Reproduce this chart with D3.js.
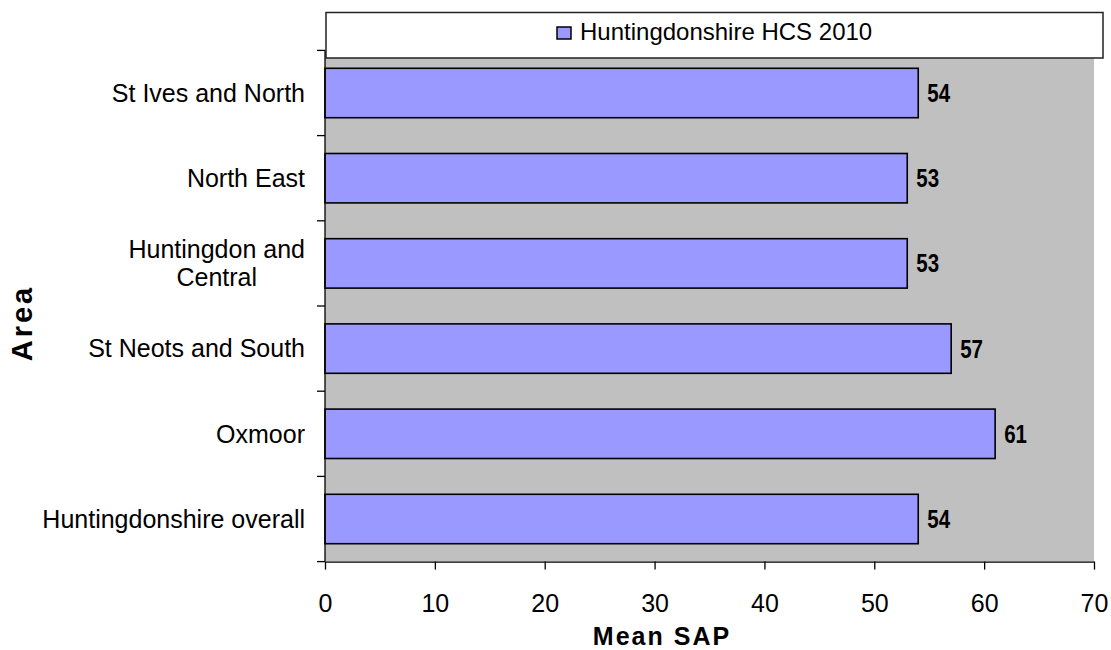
<!DOCTYPE html>
<html>
<head>
<meta charset="utf-8">
<script src="https://cdn.jsdelivr.net/npm/d3@7/dist/d3.min.js"></script>
<style>
  html, body { margin: 0; padding: 0; background: #ffffff; }
  svg { display: block; font-family: "Liberation Sans", Arial, Helvetica, sans-serif; }
</style>
</head>
<body>
<svg id="chart" width="1111" height="650"></svg>
<script>
// Mean SAP rating by area, Huntingdonshire House Condition Survey 2010
const areas = [
  "St Ives and North",
  "North East",
  "Huntingdon and|Central",
  "St Neots and South",
  "Oxmoor",
  "Huntingdonshire overall"
];
const meanSap = [54, 53, 53, 57, 61, 54];
const xTicks = [0, 10, 20, 30, 40, 50, 60, 70];
const seriesName = "Huntingdonshire HCS 2010";
const xTitle = "Mean SAP";
const yTitle = "Area";

const svg = d3.select("#chart");

const plot = { left: 325, right: 1094, top: 50.4, bottom: 561.6 };

const x = d3.scaleLinear().domain([0, 70]).range([plot.left, plot.right]);
const y = d3.scaleBand()
  .domain(areas)
  .range([plot.top, plot.bottom])
  .paddingInner(0.42)
  .paddingOuter(0.21);

// plot background
svg.append("rect")
  .attr("x", plot.left).attr("y", plot.top)
  .attr("width", plot.right - plot.left).attr("height", plot.bottom - plot.top)
  .attr("fill", "#c0c0c0");

// bars
svg.append("g").selectAll("rect")
  .data(areas)
  .join("rect")
  .attr("x", x(0))
  .attr("y", d => y(d))
  .attr("width", (d, i) => x(meanSap[i]) - x(0))
  .attr("height", y.bandwidth())
  .attr("fill", "#9999ff")
  .attr("stroke", "#000")
  .attr("stroke-width", 1.6);

// value labels
svg.append("g").selectAll("text")
  .data(areas)
  .join("text")
  .attr("transform", (d, i) =>
    `translate(${x(meanSap[i]) + 9},${y(d) + y.bandwidth() / 2 + 9}) scale(0.82,1)`)
  .attr("font-size", 25)
  .attr("font-weight", "bold")
  .attr("fill", "#000")
  .text((d, i) => meanSap[i]);

// x axis
const xAxis = svg.append("g")
  .attr("transform", `translate(0,${plot.bottom})`)
  .call(d3.axisBottom(x).tickValues(xTicks).tickSize(8).tickSizeOuter(0));
xAxis.select(".domain").attr("stroke", "#000").attr("stroke-width", 1.3);
xAxis.selectAll(".tick line").attr("stroke", "#000").attr("stroke-width", 1.3);
xAxis.selectAll(".tick text")
  .attr("y", 50).attr("dy", 0)
  .attr("font-size", 25)
  .attr("font-family", "Liberation Sans, Arial, sans-serif")
  .attr("fill", "#000");

// y axis line and boundary ticks
svg.append("line")
  .attr("x1", plot.left).attr("x2", plot.left)
  .attr("y1", plot.top).attr("y2", plot.bottom)
  .attr("stroke", "#000").attr("stroke-width", 1.3);
const step = y.step();
const bounds = d3.range(areas.length + 1).map(i => plot.top + i * step);
svg.append("g").selectAll("line")
  .data(bounds)
  .join("line")
  .attr("x1", plot.left - 8).attr("x2", plot.left)
  .attr("y1", d => d).attr("y2", d => d)
  .attr("stroke", "#000").attr("stroke-width", 1.3);

// category labels (multi-line labels are centred as a block, right-aligned to the axis)
const catG = svg.append("g");
const labelRight = plot.left - 20;
const lineH = 28;
areas.forEach(a => {
  const lines = a.split("|");
  const cy = y(a) + y.bandwidth() / 2;
  const t = catG.append("text")
    .attr("font-size", 25)
    .attr("fill", "#000");
  lines.forEach((ln, j) => {
    t.append("tspan")
      .attr("y", cy + (j - (lines.length - 1) / 2) * lineH + 8.75)
      .text(ln);
  });
  const widths = [];
  t.selectAll("tspan").each(function () { widths.push(this.getComputedTextLength()); });
  const maxW = d3.max(widths);
  if (lines.length === 1) {
    t.attr("text-anchor", "end").selectAll("tspan").attr("x", labelRight);
  } else {
    t.attr("text-anchor", "middle").selectAll("tspan").attr("x", labelRight - maxW / 2);
  }
});

// axis titles
svg.append("text")
  .attr("x", 662).attr("y", 645)
  .attr("text-anchor", "middle")
  .attr("font-size", 25)
  .attr("font-weight", "bold")
  .attr("letter-spacing", 2)
  .text(xTitle);

svg.append("text")
  .attr("transform", "translate(32,323) rotate(-90)")
  .attr("text-anchor", "middle")
  .attr("font-size", 29)
  .attr("font-weight", "bold")
  .attr("letter-spacing", 3)
  .text(yTitle);

// legend
const legend = svg.append("g");
legend.append("rect")
  .attr("x", 326).attr("y", 12.5)
  .attr("width", 1103 - 326).attr("height", 45.5)
  .attr("fill", "#fff")
  .attr("stroke", "#222").attr("stroke-width", 1.5);
legend.append("rect")
  .attr("x", 557).attr("y", 27)
  .attr("width", 14).attr("height", 12)
  .attr("fill", "#9999ff")
  .attr("stroke", "#000").attr("stroke-width", 1.5);
legend.append("text")
  .attr("x", 580).attr("y", 40)
  .attr("font-size", 24)
  .attr("fill", "#000")
  .text(seriesName);
</script>
</body>
</html>
